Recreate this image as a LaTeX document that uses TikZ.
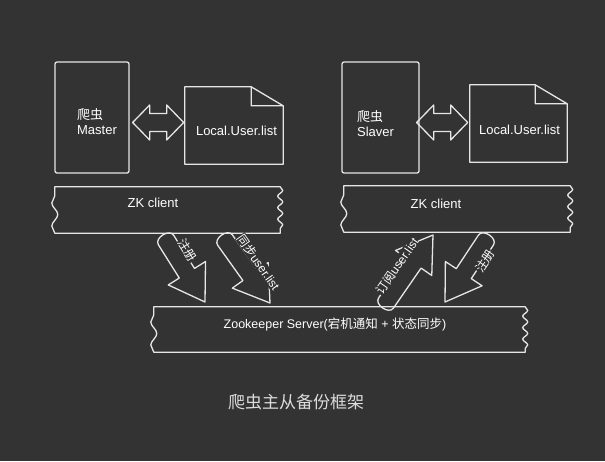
\documentclass[tikz,border=0pt]{standalone}
\usepackage{fontspec}
\setmainfont{Liberation Sans}
\newfontfamily\cjk{Noto Sans CJK SC}
\usetikzlibrary{calc,decorations.pathmorphing}
\definecolor{board}{HTML}{333333}
\definecolor{chalk}{HTML}{E6E6E6}

\tikzset{
  chalkline/.style={draw=chalk,line width=1.3pt,line join=round,line cap=round},
  crawler/.style={chalkline,rounded corners=2pt,inner sep=0pt,minimum height=111pt},
  sheet/.style={inner sep=0pt,minimum height=77pt},
  band/.style={inner sep=0pt,minimum height=46pt},
  lbl/.style={text=white,inner sep=1pt,font=\fontsize{13}{15}\selectfont},
  tag/.style={text=white,fill=board,inner sep=0.5pt,font=\fontsize{12}{14}\selectfont},
  caption/.style={text=chalk!90!gray,font=\fontsize{17}{20}\selectfont}
}

\begin{document}
\begin{tikzpicture}[x=1pt,y=-1pt]
  \fill[board] (0,0) rectangle (605,461);

  % crawler boxes
  \node[crawler,minimum width=74pt] (master) at (92,117.5) {};
  \node[crawler,minimum width=77pt] (slaver) at (380.5,117.5) {};
  \node[lbl,align=left] (masterTxt) at (97,121.5) {{\cjk 爬虫}\\Master};
  \node[lbl,align=left] (slaverTxt) at (375.5,123.5) {{\cjk 爬虫}\\Slaver};

  % user list files
  \node[sheet,minimum width=98pt] (docL) at (234,125.5) {};
  \node[sheet,minimum width=97pt] (docR) at (518.5,123.5) {};
  \foreach \d in {docL,docR}
    \draw[chalkline] (\d.north west) -- ([xshift=-32pt]\d.north east) -- ([yshift=-19pt]\d.north east)
      -- (\d.south east) -- (\d.south west) -- cycle
      ([xshift=-32pt]\d.north east) |- ([yshift=-19pt]\d.north east);
  \node[lbl] (docLTxt) at (236.5,131) {Local.User.list};
  \node[lbl] (docRTxt) at (519.5,130) {Local.User.list};

  % double arrows box <-> file
  \coordinate (dlA) at ($(master.east)+(3,5)$);
  \coordinate (dlB) at ($(slaver.east)+(-3,5)$);
  \foreach \c in {dlA,dlB}
    \draw[chalkline] (\c) -- ++(17,-17.5) -- ++(0,8.5) -- ++(17,0) -- ++(0,-8.5) -- ++(17,17.5)
      -- ++(-17,17.5) -- ++(0,-8.5) -- ++(-17,0) -- ++(0,8.5) -- cycle;

  % zookeeper bands
  \node[band,minimum width=225pt] (zkL) at (167.5,210) {};
  \node[band,minimum width=226pt] (zkR) at (457,209) {};
  \node[band,minimum width=371pt,minimum height=45pt] (zkS) at (339.5,329.5) {};
  \foreach \b in {zkL,zkR,zkS}
    \draw[chalkline] (\b.north west) -- (\b.north east)
      decorate[decoration={snake,amplitude=2.5pt,segment length=11.5pt}] {-- (\b.south east)}
      -- (\b.south west)
      decorate[decoration={snake,amplitude=3pt,segment length=23pt}] {-- (\b.north west)};
  \node[lbl] (zkLTxt) at (153,203) {ZK client};
  \node[lbl] (zkRTxt) at (436,204) {ZK client};
  \node[lbl,font=\fontsize{12.5}{15}\selectfont] (zkSTxt) at (335,325)
    {Zookeeper Server({\cjk 宕机通知} + {\cjk 状态同步})};

  % block arrows client <-> server
  \coordinate (regLT) at (166,240);  \coordinate (regLP) at (205,302);
  \coordinate (syncT) at (225,240);  \coordinate (syncP) at (270,303);
  \coordinate (subT)  at (386,303);  \coordinate (subP)  at (433,235);
  \coordinate (regRT) at (486,240);  \coordinate (regRP) at (445,302);
  \foreach \aT/\aP in {regLT/regLP,syncT/syncP,subT/subP,regRT/regRP}
    \draw[chalkline] ($(\aT)!9pt!90:(\aP)$) -- ($(\aP)!34pt!(\aT)!9pt!-90:(\aT)$)
      -- ($(\aP)!34pt!(\aT)!22pt!-90:(\aT)$) -- (\aP)
      -- ($(\aP)!34pt!(\aT)!22pt!90:(\aT)$) -- ($(\aP)!34pt!(\aT)!9pt!90:(\aT)$)
      -- ($(\aT)!9pt!-90:(\aP)$)
      .. controls ($(\aT)!-8pt!(\aP)!9pt!-90:(\aP)$) and ($(\aT)!-8pt!(\aP)!9pt!90:(\aP)$)
      .. ($(\aT)!9pt!90:(\aP)$) -- cycle;
  \node[tag,rotate=-58] (regLTxt) at (187.5,250) {\cjk 注册};
  \node[tag,rotate=-55] (syncTxt) at (258.5,262.5) {{\cjk 同步}user.list};
  \node[tag,rotate=55] (subTxt) at (397,266) {{\cjk 订阅}user.list};
  \node[tag,rotate=56] (regRTxt) at (485,261) {\cjk 注册};

  \node[caption] (title) at (296,402) {\cjk 爬虫主从备份框架};
\end{tikzpicture}
\end{document}
